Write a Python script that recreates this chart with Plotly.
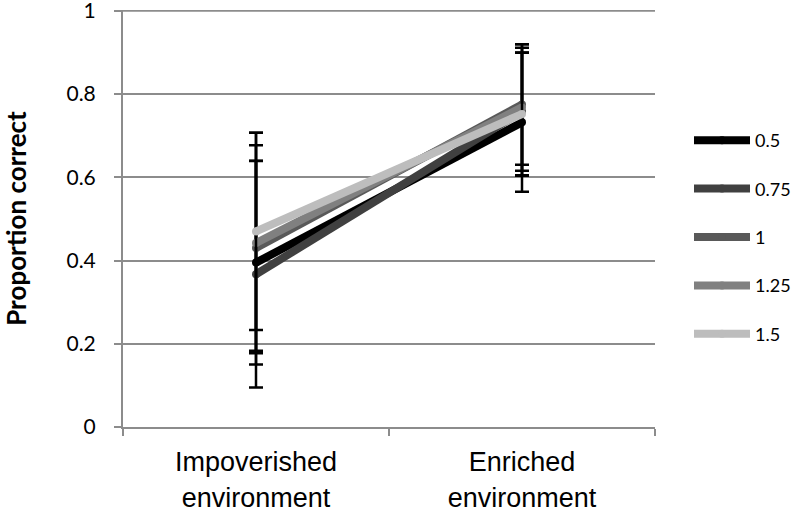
import plotly.graph_objects as go

categories = ["Impoverished<br>environment", "Enriched<br>environment"]
series_names = ["0.5", "0.75", "1", "1.25", "1.5"]
series_values = [
    [0.395, 0.732],
    [0.367, 0.758],
    [0.430, 0.775],
    [0.442, 0.768],
    [0.470, 0.752],
]
series_errors = [
    [0.245, 0.167],
    [0.272, 0.153],
    [0.247, 0.145],
    [0.265, 0.152],
    [0.237, 0.148],
]
series_colors = ["#000000", "#404040", "#595959", "#808080", "#bdbdbd"]
y_ticks = [0, 0.2, 0.4, 0.6, 0.8, 1]
y_tick_labels = ["0", "0.2", "0.4", "0.6", "0.8", "1"]

fig = go.Figure()
for name, vals, errs, col in zip(series_names, series_values, series_errors, series_colors):
    fig.add_trace(go.Scatter(
        x=categories, y=vals, name=name, mode="lines+markers",
        line=dict(color=col, width=8),
        marker=dict(color=col, size=8, symbol="circle"),
        error_y=dict(type="data", array=errs, visible=True, color="#000000",
                     thickness=2.5, width=7),
        legendgroup=name,
    ))

grid_col = "#8c8c8c"
# top gridline (plotly drops the gridline at the plot edge)
fig.add_hline(y=y_ticks[-1], line=dict(color=grid_col, width=2), layer="below")

fig.update_layout(
    width=792, height=511,
    margin=dict(l=123, r=137, t=10, b=84),
    plot_bgcolor="white", paper_bgcolor="white",
    showlegend=True,
    legend=dict(
        xref="container", yref="container",
        x=689 / 792, xanchor="left", y=1 - 122 / 511, yanchor="top",
        font=dict(family="Lato", size=18, color="#000000"),
        tracegroupgap=22, itemwidth=56,
        bgcolor="rgba(0,0,0,0)",
    ),
    xaxis=dict(
        type="category", range=[-0.5, 1.5], automargin=False,
        showgrid=False, showline=True, linecolor=grid_col, linewidth=2,
        ticks="outside", ticklen=7, tickwidth=2, tickcolor=grid_col,
        tickson="boundaries",
        tickfont=dict(family="Liberation Sans", size=27, color="#000000"),
        ticklabelstandoff=10,
    ),
    yaxis=dict(
        range=[0, 1.002], tickvals=y_ticks, ticktext=y_tick_labels, automargin=False,
        showgrid=True, gridcolor=grid_col, gridwidth=2,
        showline=True, linecolor=grid_col, linewidth=2,
        ticks="outside", ticklen=7, tickwidth=2, tickcolor=grid_col,
        tickfont=dict(family="Lato", size=21, color="#000000"),
        ticklabelstandoff=14, ticklabeloverflow="allow",
        zeroline=False,
        title=dict(text="<b>Proportion correct</b>",
                   font=dict(family="Lato", size=26, color="#000000"),
                   standoff=42),
    ),
)

fig.write_html("out.html",
               config={"displayModeBar": False},
               post_script="document.body.style.margin='0';document.body.style.padding='0';")
